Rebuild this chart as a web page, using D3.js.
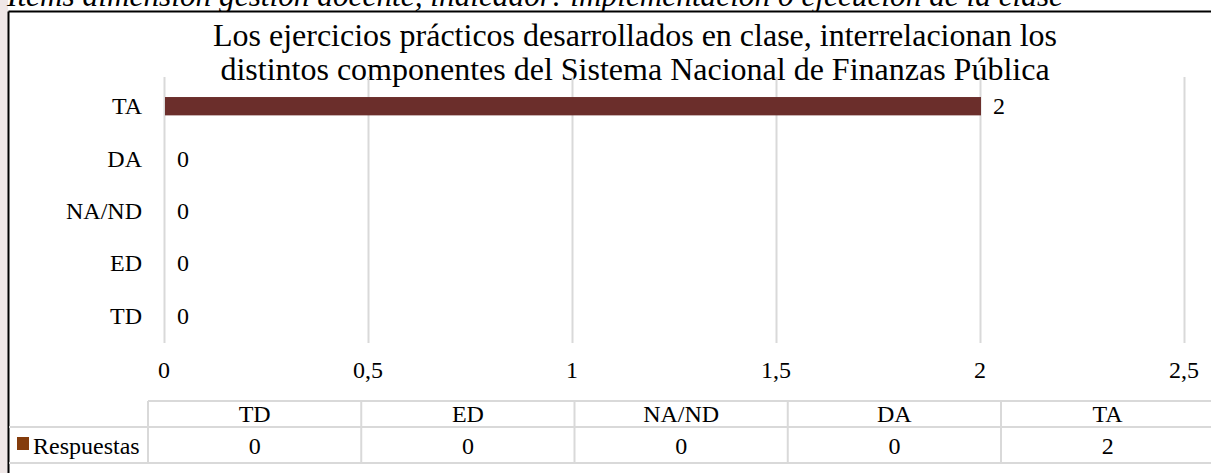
<!DOCTYPE html>
<html>
<head>
<meta charset="utf-8">
<script src="https://cdn.jsdelivr.net/npm/d3@7"></script>
<style>
  body { margin: 0; background: #fff; }
  svg { display: block; font-family: "Liberation Serif", "Times New Roman", serif; }
</style>
</head>
<body>
<svg id="chart" width="1211" height="473"></svg>
<script>
// data
const categories = ["TD", "ED", "NA/ND", "DA", "TA"];
const respuestas = [0, 0, 0, 0, 2];
const xTicks = [0, 0.5, 1, 1.5, 2, 2.5];
const seriesName = "Respuestas";
const titleLines = [
  "Los ejercicios prácticos desarrollados en clase, interrelacionan los",
  "distintos componentes del Sistema Nacional de Finanzas Pública"
];
const caption = "Ítems dimensión gestión docente, indicador: implementación o ejecución de la clase";

const svg = d3.select("#chart");
const W = 1211, H = 473;

// faint watermark strip left of the chart box
svg.append("rect").attr("x", 0).attr("y", 0).attr("width", 8).attr("height", H).attr("fill", "#efe7e7");

// caption, cut off at the top like in the page it came from
svg.append("text")
  .attr("x", 7).attr("y", 6)
  .attr("font-size", 31.3).attr("font-style", "italic")
  .attr("fill", "#000")
  .text(caption);

// chart box
svg.append("rect").attr("x", 8).attr("y", 12).attr("width", W).attr("height", H).attr("fill", "#fff");
svg.append("line").attr("x1", 8.5).attr("x2", W).attr("y1", 11.5).attr("y2", 11.5).attr("stroke", "#000").attr("stroke-width", 2);
svg.append("line").attr("x1", 8.5).attr("x2", 8.5).attr("y1", 11.5).attr("y2", H).attr("stroke", "#000").attr("stroke-width", 2);

// title
svg.append("g").selectAll("text").data(titleLines).enter().append("text")
  .attr("x", 635).attr("y", (d, i) => 46 + i * 34)
  .attr("text-anchor", "middle")
  .attr("font-size", 32)
  .text(d => d);

// scales
const x = d3.scaleLinear().domain([0, 2.5]).range([164, 1184]);
const y = d3.scaleBand().domain(categories.slice().reverse()).range([80, 342])
  .paddingInner(0.65).paddingOuter(0.325);

// gridlines
svg.append("g").selectAll("line").data(xTicks).enter().append("line")
  .attr("x1", d => x(d) + 0.5).attr("x2", d => x(d) + 0.5)
  .attr("y1", 77).attr("y2", 343)
  .attr("stroke", "#d9d9d9").attr("stroke-width", 2);

const fs = 24;

// x axis labels
const fmt = d => String(d).replace(".", ",");
svg.append("g").selectAll("text").data(xTicks).enter().append("text")
  .attr("x", d => x(d)).attr("y", 378)
  .attr("text-anchor", "middle").attr("font-size", fs)
  .text(fmt);

// category labels
svg.append("g").selectAll("text").data(categories).enter().append("text")
  .attr("x", 142).attr("y", d => y(d) + y.bandwidth() / 2 + 8)
  .attr("text-anchor", "end").attr("font-size", fs)
  .text(d => d);

// bars
const rows = categories.map((c, i) => ({ c, v: respuestas[i] }));
svg.append("g").selectAll("rect").data(rows).enter().append("rect")
  .attr("x", x(0) + 1).attr("y", d => y(d.c))
  .attr("width", d => Math.max(0, x(d.v) - x(0)))
  .attr("height", y.bandwidth())
  .attr("fill", "#6b2e2b");

// value labels
svg.append("g").selectAll("text").data(rows).enter().append("text")
  .attr("x", d => x(d.v) + 13).attr("y", d => y(d.c) + y.bandwidth() / 2 + 8)
  .attr("font-size", fs)
  .text(d => d.v);

// data table
const tx = d3.scaleBand().domain(categories).range([148, 148 + 5 * 213.25]);
const t = svg.append("g");
const grey = "#d9d9d9";
t.append("line").attr("x1", 148).attr("x2", W).attr("y1", 401).attr("y2", 401).attr("stroke", grey).attr("stroke-width", 2);
t.append("line").attr("x1", 9).attr("x2", W).attr("y1", 427).attr("y2", 427).attr("stroke", grey).attr("stroke-width", 2);
t.append("line").attr("x1", 9).attr("x2", W).attr("y1", 463).attr("y2", 463).attr("stroke", grey).attr("stroke-width", 2);
t.selectAll(".vl").data(categories).enter().append("line")
  .attr("x1", d => tx(d)).attr("x2", d => tx(d))
  .attr("y1", 401).attr("y2", 463)
  .attr("stroke", grey).attr("stroke-width", 2);
t.selectAll(".hd").data(categories).enter().append("text")
  .attr("x", d => tx(d) + tx.bandwidth() / 2).attr("y", 422)
  .attr("text-anchor", "middle").attr("font-size", fs)
  .text(d => d);
t.selectAll(".vv").data(rows).enter().append("text")
  .attr("x", d => tx(d.c) + tx.bandwidth() / 2).attr("y", 454)
  .attr("text-anchor", "middle").attr("font-size", fs)
  .text(d => d.v);

// legend key
t.append("rect").attr("x", 17).attr("y", 437).attr("width", 12).attr("height", 13).attr("fill", "#843c0c");
t.append("text").attr("x", 33).attr("y", 454).attr("font-size", fs).text(seriesName);
</script>
</body>
</html>
